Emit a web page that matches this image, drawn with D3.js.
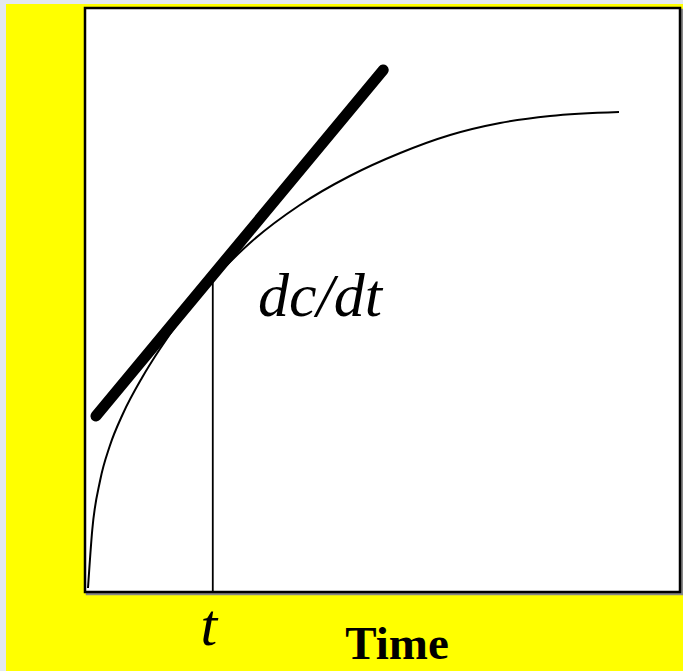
<!DOCTYPE html>
<html>
<head>
<meta charset="utf-8">
<script src="https://cdn.jsdelivr.net/npm/d3@7"></script>
<style>
  html, body { margin: 0; padding: 0; background: #e3e8f1; overflow: hidden; }
  #chart { width: 683px; height: 671px; }
</style>
</head>
<body>
<div id="chart"></div>
<script>
// concentration vs time
var time = [0, 0.08, 0.23, 0.41, 0.66, 1.02, 1.36, 1.73, 2.35, 3.05, 3.99, 4.93, 5.88, 6.82, 7.76, 8.7, 10];
var conc = [0, 1.16, 2.16, 2.84, 3.49, 4.21, 4.79, 5.35, 6.16, 6.9, 7.66, 8.24, 8.7, 9.06, 9.3, 9.44, 9.52];

// tangent drawn at t
var tPoint = 2.35;
var tangentT = [0.15, 5.56];
var tangentC = [3.44, 10.36];

var width = 683,
    height = 671;

var svg = d3.select("#chart").append("svg")
    .attr("width", width)
    .attr("height", height);

// yellow slide background
svg.append("rect")
    .attr("x", 6)
    .attr("y", 4)
    .attr("width", width - 6)
    .attr("height", height - 4)
    .attr("fill", "#ffff00");

let xScale = d3.scaleLinear()
    .domain([0, 10])
    .range([88, 619]);
let yScale = d3.scaleLinear()
    .domain([0, 10])
    .range([588, 88]);

// plot frame with a small grey shadow
svg.append("rect")
    .attr("x", 87)
    .attr("y", 10)
    .attr("width", 595)
    .attr("height", 584)
    .attr("fill", "none")
    .attr("stroke", "#888")
    .attr("stroke-width", 2.5);
svg.append("rect")
    .attr("x", 85)
    .attr("y", 8)
    .attr("width", 595)
    .attr("height", 584)
    .attr("fill", "#fff")
    .attr("stroke", "#000")
    .attr("stroke-width", 2.5);

var line_generator = d3.line()
    .x(function (d) { return xScale(d.t); })
    .y(function (d) { return yScale(d.c); });

let curveData = time.map(function (t, i) { return { t: t, c: conc[i] }; });

svg.append("path")
    .attr("d", line_generator.curve(d3.curveMonotoneX)(curveData))
    .attr("fill", "none")
    .attr("stroke", "#000")
    .attr("stroke-width", 2);

// vertical drop at t
let cAtT = conc[time.indexOf(tPoint)];
svg.append("line")
    .attr("x1", xScale(tPoint))
    .attr("x2", xScale(tPoint))
    .attr("y1", yScale(0) + 4)
    .attr("y2", yScale(cAtT))
    .attr("stroke", "#000")
    .attr("stroke-width", 1.8);

// tangent
svg.append("line")
    .attr("x1", xScale(tangentT[0]))
    .attr("y1", yScale(tangentC[0]))
    .attr("x2", xScale(tangentT[1]))
    .attr("y2", yScale(tangentC[1]))
    .attr("stroke", "#000")
    .attr("stroke-width", 11)
    .attr("stroke-linecap", "round");

svg.append("text")
    .attr("x", 258)
    .attr("y", 316)
    .attr("font-family", "'Liberation Serif', 'Times New Roman', serif")
    .attr("font-style", "italic")
    .attr("font-size", 62)
    .text("dc/dt");

svg.append("text")
    .attr("x", xScale(tPoint) - 4)
    .attr("y", 645)
    .attr("text-anchor", "middle")
    .attr("font-family", "'Liberation Serif', 'Times New Roman', serif")
    .attr("font-style", "italic")
    .attr("font-size", 60)
    .text("t");

svg.append("text")
    .attr("x", 397)
    .attr("y", 659)
    .attr("text-anchor", "middle")
    .attr("font-family", "'Liberation Serif', 'Times New Roman', serif")
    .attr("font-weight", "bold")
    .attr("font-size", 47)
    .text("Time");
</script>
</body>
</html>
